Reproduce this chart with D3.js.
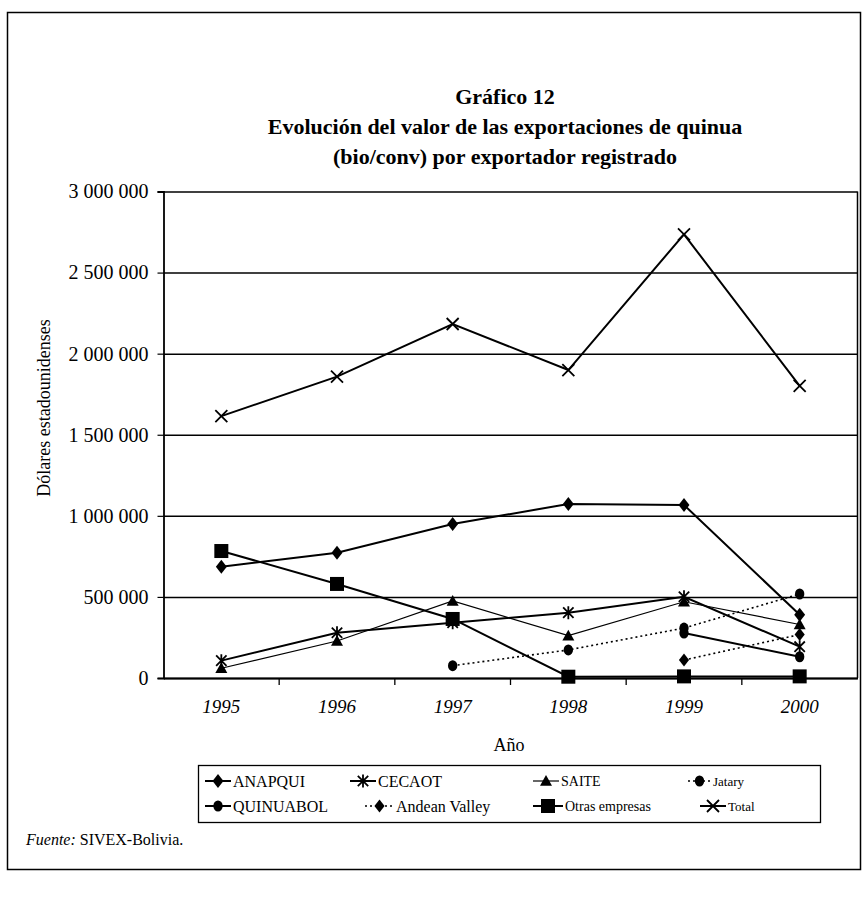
<!DOCTYPE html>
<html>
<head>
<meta charset="utf-8">
<script src="https://cdn.jsdelivr.net/npm/d3@7"></script>
<style>
  html, body { margin: 0; padding: 0; background: #fff; }
  svg { display: block; }
  text { font-family: "Liberation Serif", "Times New Roman", serif; fill: #000; }
</style>
</head>
<body>
<svg id="chart" width="868" height="906" font-family="Liberation Serif, Times New Roman, serif"></svg>
<script>
// Export value (US$) by registered exporter, 1995-2000
const years = ["1995", "1996", "1997", "1998", "1999", "2000"];
const anapqui      = [686000, 773000, 950000, 1073000, 1067000, 390000];
const cecaot       = [107000, 279000, 341000, 403000, 501000, 193000];
const saite        = [60000, 228000, 475000, 261000, 470000, 330000];
const jatary       = [null, null, 76000, 173000, 308000, 518000];
const quinuabol    = [null, null, null, null, 277000, 131000];
const andeanValley = [null, null, null, null, 111000, 268000];
const otras        = [783000, 580000, 364000, 8000, 10000, 10000];
const total        = [1615000, 1858000, 2183000, 1899000, 2736000, 1801000];
const yTicks = [0, 500000, 1000000, 1500000, 2000000, 2500000, 3000000];

const titleLines = ["Gráfico 12",
  "Evolución del valor de las exportaciones de quinua",
  "(bio/conv) por exportador registrado"];

const SERIF = "Liberation Serif, Times New Roman, serif";

// marker shapes
const markers = {
  diamond: (g, s) => g.append("path").attr("d", `M0,${-s}L${s*0.78},0L0,${s}L${-s*0.78},0Z`).attr("fill", "#000"),
  square: (g, s) => g.append("rect").attr("x", -s).attr("y", -s).attr("width", 2*s).attr("height", 2*s).attr("fill", "#000"),
  triangle: (g, s) => g.append("path").attr("d", `M0,${-s}L${s},${s*0.8}L${-s},${s*0.8}Z`).attr("fill", "#000"),
  circle: (g, s) => g.append("ellipse").attr("rx", s*0.85).attr("ry", s).attr("fill", "#000"),
  star: (g, s) => g.append("path").attr("d",
      `M0,${-s}L0,${s}M${-s*0.8},${-s*0.8}L${s*0.8},${s*0.8}M${s*0.8},${-s*0.8}L${-s*0.8},${s*0.8}`)
      .attr("stroke", "#000").attr("stroke-width", 1.8).attr("fill", "none"),
  cross: (g, s) => g.append("path").attr("d", `M${-s},${-s}L${s},${s}M${s},${-s}L${-s},${s}`)
      .attr("stroke", "#000").attr("stroke-width", 1.8).attr("fill", "none")
};

const series = [
  {name: "ANAPQUI", values: anapqui, marker: "diamond", size: 7, width: 2, dash: null},
  {name: "CECAOT", values: cecaot, marker: "star", size: 6.5, width: 2, dash: null},
  {name: "SAITE", values: saite, marker: "triangle", size: 6, width: 1.2, dash: null},
  {name: "Jatary", values: jatary, marker: "circle", size: 5.5, width: 1.6, dash: "2,3"},
  {name: "QUINUABOL", values: quinuabol, marker: "circle", size: 5.5, width: 2, dash: null},
  {name: "Andean Valley", values: andeanValley, marker: "diamond", size: 6.5, width: 1.6, dash: "2,3"},
  {name: "Otras empresas", values: otras, marker: "square", size: 7, width: 2, dash: null},
  {name: "Total", values: total, marker: "cross", size: 6, width: 2, dash: null}
];

const svg = d3.select("#chart");

// outer frame
svg.append("rect").attr("x", 7.5).attr("y", 12.5).attr("width", 853).attr("height", 857)
  .attr("fill", "none").attr("stroke", "#000").attr("stroke-width", 1.5);

// title
svg.append("g").selectAll("text").data(titleLines).join("text")
  .attr("x", 505).attr("y", (d, i) => 104 + i * 30)
  .attr("text-anchor", "middle").attr("font-size", 22).attr("font-weight", "bold")
  .attr("font-family", SERIF)
  .text(d => d);

const plot = {left: 163.5, right: 857.5, top: 191.5, bottom: 678};
const x = d3.scaleBand().domain(years).range([plot.left, plot.right]);
const cx = d => x(d) + x.bandwidth() / 2;
const y = d3.scaleLinear().domain([0, 3000000]).range([plot.bottom, plot.top]);

const fmt = v => d3.format(",")(v).replace(/,/g, " ");

// horizontal gridlines
svg.append("g").attr("transform", `translate(${plot.left},0)`)
  .call(d3.axisLeft(y).tickValues(yTicks).tickSize(-(plot.right - plot.left)).tickFormat(""))
  .call(g => g.select(".domain").remove())
  .call(g => g.selectAll("line").attr("stroke", "#000").attr("stroke-width", 1.5));

// plot border (right side)
svg.append("line").attr("x1", plot.right).attr("x2", plot.right).attr("y1", plot.top).attr("y2", plot.bottom)
  .attr("stroke", "#000").attr("stroke-width", 1.5);

// y axis
svg.append("g").attr("transform", `translate(${plot.left},0)`)
  .call(d3.axisLeft(y).tickValues(yTicks).tickSize(6).tickPadding(9).tickFormat(fmt))
  .attr("font-family", SERIF)
  .call(g => g.select(".domain").attr("stroke", "#000").attr("stroke-width", 1.8))
  .call(g => g.selectAll("line").attr("stroke", "#000").attr("stroke-width", 1.2))
  .call(g => g.selectAll("text").attr("font-size", 20).attr("font-family", SERIF));

// x axis: labels centred in bands, ticks between bands
const xAxis = svg.append("g").attr("transform", `translate(0,${plot.bottom})`)
  .call(d3.axisBottom(x).tickSize(0).tickPadding(22))
  .attr("font-family", SERIF)
  .call(g => g.select(".domain").attr("stroke", "#000").attr("stroke-width", 2))
  .call(g => g.selectAll("text").attr("font-size", 19).attr("font-style", "italic")
    .attr("font-family", SERIF));
xAxis.selectAll("line.sep").data(years.slice(1)).join("line").attr("class", "sep")
  .attr("x1", d => x(d)).attr("x2", d => x(d)).attr("y1", 0).attr("y2", 7)
  .attr("stroke", "#000").attr("stroke-width", 1.3);

// axis titles
svg.append("text").attr("x", 509).attr("y", 751).attr("text-anchor", "middle")
  .attr("font-size", 18).attr("font-family", SERIF).text("Año");
svg.append("text").attr("transform", "translate(50,408) rotate(-90)").attr("text-anchor", "middle")
  .attr("font-size", 18).attr("font-family", SERIF).text("Dólares estadounidenses");

// series lines
const line = d3.line().defined(d => d.v !== null).x(d => cx(d.year)).y(d => y(d.v));
const lineLayer = svg.append("g");
const markLayer = svg.append("g");
series.forEach(s => {
  const pts = years.map((yr, i) => ({year: yr, v: s.values[i]}));
  lineLayer.append("path").datum(pts).attr("d", line)
    .attr("fill", "none").attr("stroke", "#000").attr("stroke-width", s.width)
    .attr("stroke-dasharray", s.dash);
  pts.filter(p => p.v !== null).forEach(p => {
    const g = markLayer.append("g").attr("transform", `translate(${cx(p.year)},${y(p.v)})`);
    markers[s.marker](g, s.size);
  });
});

// legend
const legend = svg.append("g");
legend.append("rect").attr("x", 198.5).attr("y", 765.5).attr("width", 622).attr("height", 57)
  .attr("fill", "none").attr("stroke", "#000").attr("stroke-width", 1.3);
const legendPos = [
  {x0: 205, x1: 231, ty: 781, fs: 16}, {x0: 350, x1: 376, ty: 781, fs: 16},
  {x0: 533, x1: 559, ty: 781, fs: 14}, {x0: 688, x1: 711, ty: 781, fs: 13},
  {x0: 205, x1: 231, ty: 806, fs: 16}, {x0: 365, x1: 394, ty: 806, fs: 16},
  {x0: 533, x1: 563, ty: 806, fs: 14}, {x0: 700, x1: 726, ty: 806, fs: 13}
];
series.forEach((s, i) => {
  const p = legendPos[i];
  legend.append("line").attr("x1", p.x0).attr("x2", p.x1).attr("y1", p.ty).attr("y2", p.ty)
    .attr("stroke", "#000").attr("stroke-width", s.width).attr("stroke-dasharray", s.dash);
  const g = legend.append("g").attr("transform", `translate(${(p.x0 + p.x1) / 2},${p.ty})`);
  markers[s.marker](g, s.size);
  legend.append("text").attr("x", p.x1 + 2).attr("y", p.ty).attr("dy", "0.35em")
    .attr("font-size", p.fs).attr("font-family", SERIF).text(s.name);
});

// source note
const src = svg.append("text").attr("x", 26).attr("y", 845).attr("font-size", 16).attr("font-family", SERIF);
src.append("tspan").attr("font-style", "italic").text("Fuente:");
src.append("tspan").text(" SIVEX-Bolivia.");
</script>
</body>
</html>
